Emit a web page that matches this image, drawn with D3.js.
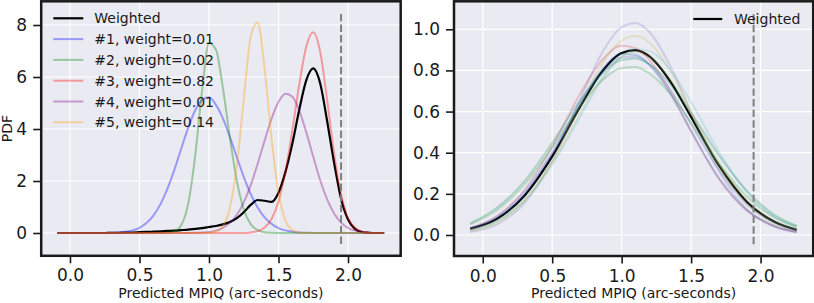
<!DOCTYPE html>
<html>
<head>
<meta charset="utf-8">
<script src="https://cdn.jsdelivr.net/npm/d3@7"></script>
<style>
body { margin: 0; background: #fff; }
text { font-family: "DejaVu Sans", sans-serif; fill: #1a1a1a; }
</style>
</head>
<body>
<div id="container"></div>
<script>
// ---- data ----
const leftX = [-0.09, 0.00, 0.05, 0.10, 0.15, 0.20, 0.25, 0.30, 0.35, 0.40,
    0.45, 0.50, 0.55, 0.60, 0.65, 0.70, 0.75, 0.80, 0.85, 0.90,
    0.95, 1.00, 1.05, 1.10, 1.15, 1.20, 1.25, 1.30, 1.35, 1.40,
    1.45, 1.50, 1.55, 1.60, 1.65, 1.70, 1.75, 1.80, 1.85, 1.90,
    1.95, 2.00, 2.05, 2.10, 2.15, 2.20, 2.25, 2.26];

const pdfWeighted = [0, 0, 0, 0, 0, 0, 0, .01, .01, .02,
    .02, .03, .04, .05, .06, .08, .09, .11, .13, .16,
    .19, .23, .27, .33, .42, .57, .80, 1.08, 1.27, 1.24,
    1.20, 1.55, 2.35, 3.45, 4.76, 5.88, 6.33, 5.75, 4.30, 2.70,
    1.32, .52, .16, .04, .01, 0, 0, 0];
const pdf1 = [0, 0, 0, 0, 0, 0, 0, .01, .02, .05,
    .10, .20, .38, .67, 1.10, 1.69, 2.42, 3.24, 4.04, 4.71,
    5.11, 5.22, 4.93, 4.41, 3.70, 2.92, 2.16, 1.50, .98, .60,
    .35, .19, .10, .05, .02, .01, 0, 0, 0, 0,
    0, 0, 0, 0, 0, 0, 0, 0];
const pdf2 = [0, 0, 0, 0, 0, 0, 0, 0, 0, 0,
    0, 0, 0, 0, 0, .01, .06, .30, 1.11, 2.94,
    5.47, 7.30, 7.05, 5.58, 3.68, 2.01, .91, .34, .11, .03,
    .01, 0, 0, 0, 0, 0, 0, 0, 0, 0,
    0, 0, 0, 0, 0, 0, 0, 0];
const pdf3 = [0, 0, 0, 0, 0, 0, 0, 0, 0, 0,
    0, 0, 0, 0, 0, 0, 0, 0, 0, 0,
    0, 0, 0, 0, 0, 0, 0, .02, .07, .21,
    .54, 1.21, 2.36, 3.97, 5.74, 7.17, 7.72, 6.96, 5.11, 3.05,
    1.48, .58, .19, .05, .01, 0, 0, 0];
const pdf4 = [0, 0, 0, 0, 0, 0, 0, 0, 0, 0,
    0, 0, 0, 0, 0, 0, 0, 0, 0, .01,
    .02, .04, .09, .20, .39, .70, 1.18, 1.84, 2.66, 3.55,
    4.40, 5.04, 5.36, 5.24, 4.70, 3.87, 2.93, 2.03, 1.29, .75,
    .40, .20, .09, .04, .01, 0, 0, 0];
const pdf5 = [0, 0, 0, 0, 0, 0, 0, 0, 0, 0,
    0, 0, 0, 0, 0, 0, 0, 0, 0, 0,
    0, .01, .05, .26, .96, 2.59, 5.14, 7.55, 8.10, 6.31,
    3.64, 1.54, .48, .11, .02, 0, 0, 0, 0, 0,
    0, 0, 0, 0, 0, 0, 0, 0];
const leftLabels = ["Weighted", "#1, weight=0.01", "#2, weight=0.02",
    "#3, weight=0.82", "#4, weight=0.01", "#5, weight=0.14"];

const rightX = [-0.09, 0.1, 0.3, 0.5, 0.7, 0.85, 1.0, 1.1, 1.2, 1.35, 1.5, 1.7, 1.9, 2.1, 2.26];
const rightWeighted = [.031, .078, .191, .382, .623, .787, .885, .899, .868, .747, .574, .338, .162, .064, .025];
const rightA = [.015, .051, .154, .361, .657, .875, 1.011, 1.031, .987, .822, .595, .311, .126, .040, .012];
const rightB = [.019, .060, .165, .360, .629, .822, .945, .967, .935, .798, .601, .337, .151, .054, .020];
const rightC = [.031, .089, .218, .430, .685, .843, .920, .908, .851, .697, .506, .273, .119, .042, .015];
const rightD = [.023, .066, .165, .340, .573, .746, .868, .903, .894, .803, .645, .405, .209, .089, .037];
const rightE = [.027, .079, .197, .396, .640, .796, .880, .876, .827, .687, .504, .277, .122, .044, .016];
const rightF = [.033, .089, .209, .401, .632, .780, .862, .868, .829, .707, .539, .317, .152, .060, .025];
const rightG = [.057, .131, .262, .448, .653, .780, .850, .858, .830, .734, .593, .388, .216, .098, .045];
const rightH = [.052, .120, .246, .426, .624, .746, .812, .817, .785, .686, .546, .348, .188, .086, .041];
const rightI = [.023, .067, .170, .351, .589, .757, .867, .890, .867, .757, .589, .351, .170, .067, .028];

const xTicks = [0.0, 0.5, 1.0, 1.5, 2.0];
const leftYTicks = [0, 2, 4, 6, 8];
const rightYTicks = [0.0, 0.2, 0.4, 0.6, 0.8, 1.0];
const cutX = 1.95;
const leftCutY = [-0.42, 8.51];
const rightCutY = [-0.045, 1.086];

// ---- styles ----
const leftColors = ["#0000ff", "#008000", "#ff0000", "#800080", "#ff9d00"];
const rightColors = ["#7878ca", "#ccbb45", "#d63645", "#57bbca", "#2557ca",
    "#4668b9", "#008955", "#259a34", "#9abb66"];
const ink = "#1a1a1a";

const svg = d3.select("#container")
    .append("svg")
    .attr("width", 814)
    .attr("height", 303);

function drawPanel(p) {
    const g = svg.append("g");
    const x = d3.scaleLinear().domain([-0.207, 2.379]).range([p.left, p.right]);
    const y = d3.scaleLinear().domain(p.yDomain).range([p.bottom, p.top]);

    g.append("rect")
        .attr("x", p.left).attr("y", p.top)
        .attr("width", p.right - p.left).attr("height", p.bottom - p.top)
        .attr("fill", "#eaeaf2");

    // grid
    g.selectAll(".vgrid").data(xTicks).enter().append("line")
        .attr("x1", d => x(d)).attr("x2", d => x(d))
        .attr("y1", p.top).attr("y2", p.bottom)
        .attr("stroke", "#fff").attr("stroke-width", 1.2);
    g.selectAll(".hgrid").data(p.yTicks).enter().append("line")
        .attr("x1", p.left).attr("x2", p.right)
        .attr("y1", d => y(d)).attr("y2", d => y(d))
        .attr("stroke", "#fff").attr("stroke-width", 1.2);

    const line = d3.line()
        .x(d => x(d[0]))
        .y(d => y(d[1]))
        .curve(d3.curveMonotoneX);

    // weighted first, thin curves on top
    g.append("path")
        .attr("d", line(d3.zip(p.xs, p.weighted)))
        .attr("fill", "none")
        .attr("stroke", "#000")
        .attr("stroke-width", 2.2);

    p.series.forEach((s, i) => {
        g.append("path")
            .attr("d", line(d3.zip(p.xs, s)))
            .attr("fill", "none")
            .attr("stroke", p.colors[i])
            .attr("stroke-opacity", p.alpha)
            .attr("stroke-width", 2);
    });

    g.append("line")
        .attr("x1", x(cutX)).attr("x2", x(cutX))
        .attr("y1", y(p.cutY[0])).attr("y2", y(p.cutY[1]))
        .attr("stroke", "#7f7f7f")
        .attr("stroke-width", 2)
        .attr("stroke-dasharray", "7.4,3.2");

    // frame
    g.append("rect")
        .attr("x", p.left).attr("y", p.top)
        .attr("width", p.right - p.left).attr("height", p.bottom - p.top)
        .attr("fill", "none")
        .attr("stroke", ink)
        .attr("stroke-width", 2.5);

    const xAxis = g.append("g")
        .attr("transform", "translate(0," + p.bottom + ")")
        .call(d3.axisBottom(x).tickValues(xTicks).tickSize(7.5).tickPadding(6)
            .tickFormat(d3.format(".1f")));
    const yAxis = g.append("g")
        .attr("transform", "translate(" + p.left + ",0)")
        .call(d3.axisLeft(y).tickValues(p.yTicks).tickSize(8).tickPadding(6)
            .tickFormat(p.yFormat));
    [xAxis, yAxis].forEach(a => {
        a.select(".domain").remove();
        a.selectAll(".tick line").attr("stroke", ink).attr("stroke-width", 1.6);
        a.selectAll(".tick text")
            .attr("font-family", "DejaVu Sans")
            .attr("font-size", 17)
            .attr("fill", ink);
    });

    g.append("text")
        .attr("x", (p.left + p.right) / 2)
        .attr("y", 298)
        .attr("text-anchor", "middle")
        .style("font-size", "14px")
        .text("Predicted MPIQ (arc-seconds)");

    return g;
}

const left = drawPanel({
    left: 41.2, right: 400.7, top: 1.3, bottom: 255.8,
    yDomain: [-0.877, 8.912], yTicks: leftYTicks, yFormat: d3.format("d"),
    xs: leftX, weighted: pdfWeighted, series: [pdf1, pdf2, pdf3, pdf4, pdf5],
    colors: leftColors, alpha: 0.35, cutY: leftCutY
});

const right = drawPanel({
    left: 454, right: 813.2, top: 1.3, bottom: 256,
    yDomain: [-0.1021, 1.1361], yTicks: rightYTicks, yFormat: d3.format(".1f"),
    xs: rightX, weighted: rightWeighted,
    series: [rightA, rightB, rightC, rightD, rightE, rightF, rightG, rightH, rightI],
    colors: rightColors, alpha: 0.25, cutY: rightCutY
});

svg.append("text")
    .attr("transform", "translate(12,128.5) rotate(-90)")
    .attr("text-anchor", "middle")
    .style("font-size", "14px")
    .text("PDF");

// legends
const legend = left.selectAll(".legend")
    .data(leftLabels)
    .enter()
    .append("g")
    .attr("class", "legend")
    .attr("transform", (d, i) => "translate(53.3," + (18.3 + i * 20.8) + ")");
legend.append("line")
    .attr("x1", 0).attr("x2", 30)
    .attr("stroke", (d, i) => i === 0 ? "#000" : leftColors[i - 1])
    .attr("stroke-opacity", (d, i) => i === 0 ? 1 : 0.35)
    .attr("stroke-width", (d, i) => i === 0 ? 2.2 : 2);
legend.append("text")
    .attr("x", 41)
    .attr("dy", 5)
    .style("font-size", "14px")
    .text(d => d);

const rlegend = right.append("g").attr("transform", "translate(693.3,19)");
rlegend.append("line")
    .attr("x1", 0).attr("x2", 29)
    .attr("stroke", "#000").attr("stroke-width", 2.2);
rlegend.append("text")
    .attr("x", 40.7)
    .attr("dy", 5)
    .style("font-size", "14px")
    .text("Weighted");
</script>
</body>
</html>
